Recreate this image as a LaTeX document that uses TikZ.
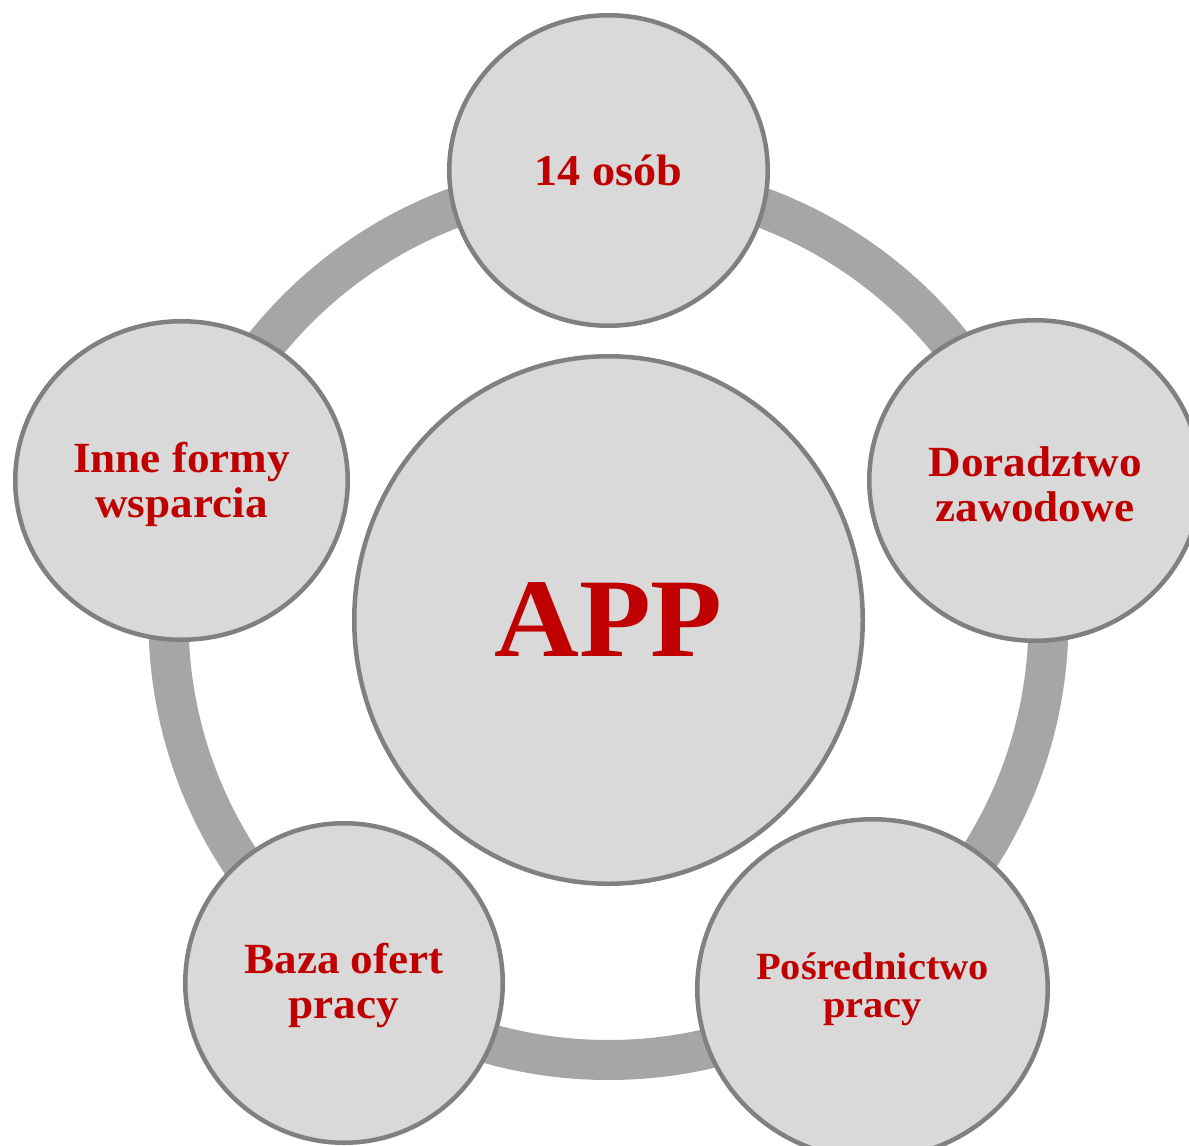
\documentclass[tikz,border=0pt]{standalone}
\usepackage{fontspec}
\setmainfont[FakeStretch=1.05]{Liberation Serif}
\usetikzlibrary{shapes.geometric}
\definecolor{ringgray}{RGB}{166,166,166}
\definecolor{fillgray}{RGB}{217,217,217}
\definecolor{edgegray}{RGB}{128,128,128}
\definecolor{txtred}{RGB}{192,0,0}
\newcommand{\topstrut}[1]{\rule{0pt}{#1}}
\begin{document}
\begin{tikzpicture}[x=1pt,y=-1pt,
  bubble/.style={ellipse, draw=edgegray, fill=fillgray, line width=4.5pt,
    inner sep=0pt, text=txtred, align=center,
    font=\bfseries\fontsize{43}{45}\selectfont},
  ring/.style={draw=ringgray, line width=40pt}]
\useasboundingbox (0,0) rectangle (1189,1146);
\fill[white] (0,0) rectangle (1189,1146);
\coordinate (c) at (608.5,620);
\draw[ring] (c) circle[radius=440pt];
\node[bubble, minimum width=508.5pt, minimum height=527.5pt,
  font=\bfseries\fontsize{112}{120}\selectfont] (app) at (c) {APP};
\node[bubble, minimum width=318.5pt, minimum height=310.5pt,
  font=\bfseries\fontsize{44}{45}\selectfont] (osob) at (608.5,170.5) {14 osób};
\node[bubble, minimum width=331.5pt, minimum height=320.5pt] (dor) at (1035,480.5) {\topstrut{38pt}Doradztwo\\zawodowe};
\node[bubble, minimum width=350.5pt, minimum height=339.5pt,
  font=\bfseries\fontsize{38.5}{38}\selectfont] (posr) at (872.5,989) {Pośrednictwo\\pracy};
\node[bubble, minimum width=317.5pt, minimum height=319.5pt] (baza) at (344,983) {\topstrut{36pt}Baza ofert\\pracy};
\node[bubble, minimum width=332.5pt, minimum height=318.5pt] (inne) at (181.5,480.5) {\topstrut{38pt}Inne formy\\wsparcia};
\end{tikzpicture}
\end{document}
